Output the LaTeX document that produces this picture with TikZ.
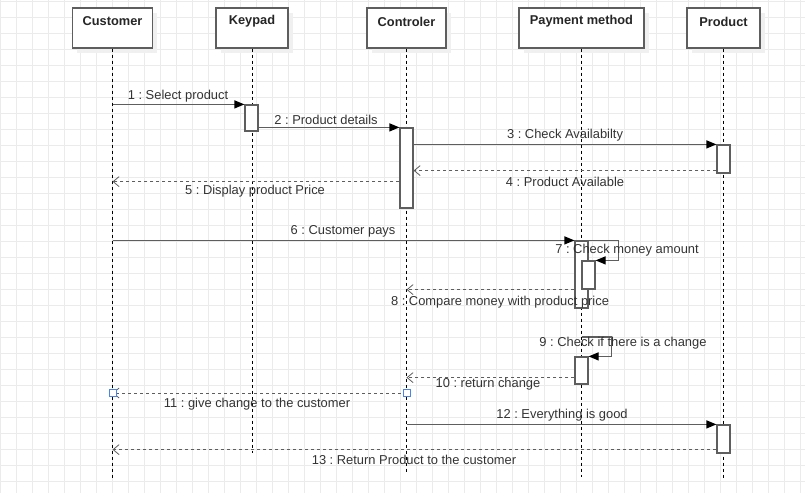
\documentclass[tikz,border=0pt]{standalone}
\usepackage{fontspec}
\setmainfont{Liberation Sans}
\frenchspacing
\usetikzlibrary{arrows.meta,calc}
\definecolor{gridc}{HTML}{EBEBEB}
\definecolor{linec}{HTML}{5E5E5E}
\definecolor{txtc}{HTML}{333333}
\definecolor{selc}{HTML}{4A86E8}
\tikzset{
  headbox/.style={draw=linec, line width=1.2pt, fill=white, minimum width=#1, minimum height=40pt, inner sep=0pt},
  headtxt/.style={font=\bfseries\fontsize{12.8}{15}\selectfont, text=black!85, inner sep=0pt},
  life/.style={draw=black, line width=0.8pt, dash pattern=on 3pt off 3pt},
  act/.style={draw=linec, line width=1.2pt, fill=white, minimum width=13pt, minimum height=#1, inner sep=0pt},
  msg/.style={draw=linec, line width=1.2pt, -{Triangle[length=10pt,width=8pt,black]}},
  ret/.style={draw=linec, line width=1pt, dash pattern=on 3pt off 3pt, -{Straight Barb[length=6pt,width=10pt,line width=0.8pt]}},
  lbl/.style={font=\frenchspacing\fontsize{12.9}{15}\selectfont, text=txtc, inner sep=0pt},
  handle/.style={draw=selc, fill=white, line width=0.8pt, minimum size=7pt, inner sep=0pt},
}
\begin{document}
\begin{tikzpicture}[x=1pt,y=-1pt]
\useasboundingbox (0,0) rectangle (805,493);
% grid
\foreach \i in {0,...,50} {\draw[gridc, line width=1pt] (0.5+16*\i,0) -- (0.5+16*\i,493);}
\foreach \j in {0,...,30} {\draw[gridc, line width=1pt] (0,1+16*\j) -- (805,1+16*\j);}
% shadows
\foreach \a/\b in {72/152,216/288,367/446,519/644,687/760} {
  \fill[black!6] (\a+5,13) rectangle (\b+5,53);
}
% header boxes
\node[headbox=80pt] (cust) at (112.5,28) {};
\node[headbox=72pt] (keyp) at (252,28) {};
\node[headbox=79pt] (ctrl) at (406.5,28) {};
\node[headbox=125pt] (paym) at (581.5,28) {};
\node[headbox=73pt] (prod) at (723.5,28) {};
\node[headtxt] (custT) at (112.5,21.5) {Customer};
\node[headtxt] (keypT) at (252,21.5) {Keypad};
\node[headtxt] (ctrlT) at (406.5,21.5) {Controler};
\node[headtxt] (paymT) at (581.5,21.5) {Payment method};
\node[headtxt] (prodT) at (723.5,21.5) {Product};
% lifelines
\coordinate (custE) at (112.5,478);
\coordinate (keypE) at (252,453);
\coordinate (ctrlE) at (406.5,472);
\coordinate (paymE) at (581.5,477);
\coordinate (prodE) at (723.5,478);
\draw[life] (cust.south) -- (custE);
\draw[life] (keyp.south) -- (keypE);
\draw[life] (ctrl.south) -- (ctrlE);
\draw[life] (paym.south) -- (paymE);
\draw[life] (prod.south) -- (prodE);
% activations
\node[act=26pt] (k1) at (251.5,118) {};
\node[act=80pt] (c1) at (406.5,168) {};
\node[act=28pt] (p1) at (723.5,159) {};
\node[act=67pt] (pa1) at (581.5,274.5) {};
\node[act=28pt] (pa2) at (588.5,275) {};
\node[act=27pt] (pa3) at (581.5,370.5) {};
\node[act=28pt] (p2) at (723.5,439) {};
% messages
\draw[msg] (k1.north west -| cust.south) -- (k1.north west);
\draw[msg] (c1.north west -| k1.east) -- (c1.north west);
\draw[msg] (p1.north west -| c1.east) -- (p1.north west);
\draw[ret] ([yshift=3pt]p1.south west) -- ([yshift=3pt]p1.south west -| c1.east);
\draw[ret] ([yshift=27pt]c1.south west) -- ([yshift=27pt]c1.south west -| cust.south);
\draw[msg] (pa1.north west -| cust.south) -- (pa1.north west);
\draw[msg] (pa1.north east) -- ++(30,0) |- (pa2.north east);
\draw[ret] (pa2.south -| pa1.west) -- (pa2.south -| ctrl.south);
\coordinate (s9) at (581.5,337);
\draw[msg] (s9) -- ++(30,0) |- (pa3.north east);
\draw[ret] ([yshift=7pt]pa3.south west) -- ([yshift=7pt]pa3.south west -| ctrl.south);
\coordinate (m11a) at (406.5,393);
\coordinate (m11b) at (112.5,393);
\draw[ret] (m11a) -- (m11b);
\node[handle] (h11a) at (m11a) {};
\node[handle] (h11b) at (m11b) {};
\draw[msg] (p2.north west -| ctrl.south) -- (p2.north west);
\draw[ret] ([yshift=4pt]p2.south west) -- ([yshift=4pt]p2.south west -| cust.south);
% labels
\node[lbl] (l1) at (178,96) {1 : Select product};
\node[lbl] (l2) at (326,119.5) {2 : Product details};
\node[lbl] (l3) at (565,135.5) {3 : Check Availabilty};
\node[lbl] (l4) at (565,181.5) {4 : Product Available};
\node[lbl] (l5) at (255,191.5) {5 : Display product Price};
\node[lbl] (l6) at (343,231.5) {6 : Customer pays};
\node[lbl] (l7) at (627,250.5) {7 : Check money amount};
\node[lbl] (l8) at (500,302.5) {8 : Compare money with product price};
\node[lbl] (l9) at (623,343.5) {9 : Check if there is a change};
\node[lbl] (l10) at (488,384.5) {10 : return change};
\node[lbl] (l11) at (257,404.5) {11 : give change to the customer};
\node[lbl] (l12) at (562,415.5) {12 : Everything is good};
\node[lbl] (l13) at (414,460) {13 : Return Product to the customer};
\end{tikzpicture}
\end{document}
